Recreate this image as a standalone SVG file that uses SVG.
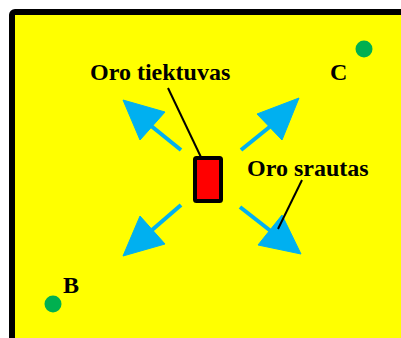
<svg xmlns="http://www.w3.org/2000/svg" width="401" height="338" viewBox="0 0 401 338">
<style>
.lbl{font-family:"Liberation Serif","Times New Roman",serif;font-weight:bold;font-size:24px;fill:#000}
.flow{stroke:#00B0F0;stroke-width:4;fill:none;stroke-linecap:butt}
.head{fill:#00B0F0;stroke:#00B0F0;stroke-width:1;stroke-linejoin:round}
.leader{stroke:#000;stroke-width:2;fill:none}
.pt{fill:#00B050}
</style>
<rect x="0" y="0" width="401" height="338" fill="#fff"/>
<g id="field">
<rect x="12" y="12" width="420" height="360" rx="3" fill="#FFFF00" stroke="#000" stroke-width="6"/>
</g>
<g id="connectors">
<g id="flow-ul"><line class="flow" x1="181" y1="150" x2="150" y2="125"/><polygon class="head" points="123,100 165,112 140,140"/></g>
<g id="flow-ur"><line class="flow" x1="241" y1="150" x2="272" y2="125"/><polygon class="head" points="299,98 257,114 282,140"/></g>
<g id="flow-ll"><line class="flow" x1="181" y1="205" x2="152" y2="230"/><polygon class="head" points="123,256 140,216 165,244"/></g>
<g id="flow-lr"><line class="flow" x1="240" y1="207" x2="272" y2="232"/><polygon class="head" points="301,254 282,215 258,245"/></g>
<line class="leader" x1="168" y1="88" x2="209" y2="174"/>
<line class="leader" x1="302" y1="180" x2="278" y2="229"/>
</g>
<g id="supply">
<rect x="195" y="158" width="26" height="43" rx="1.5" fill="#FF0000" stroke="#000" stroke-width="4"/>
</g>
<g id="label-supply"><text class="lbl" x="90" y="80">Oro tiektuvas</text></g>
<g id="label-flow"><text class="lbl" x="247" y="176">Oro srautas</text></g>
<g id="point-C"><circle class="pt" cx="364" cy="49" r="8.5"/><text class="lbl" x="330" y="80">C</text></g>
<g id="point-B"><circle class="pt" cx="53" cy="304" r="8.5"/><text class="lbl" x="63" y="293">B</text></g>
</svg>
